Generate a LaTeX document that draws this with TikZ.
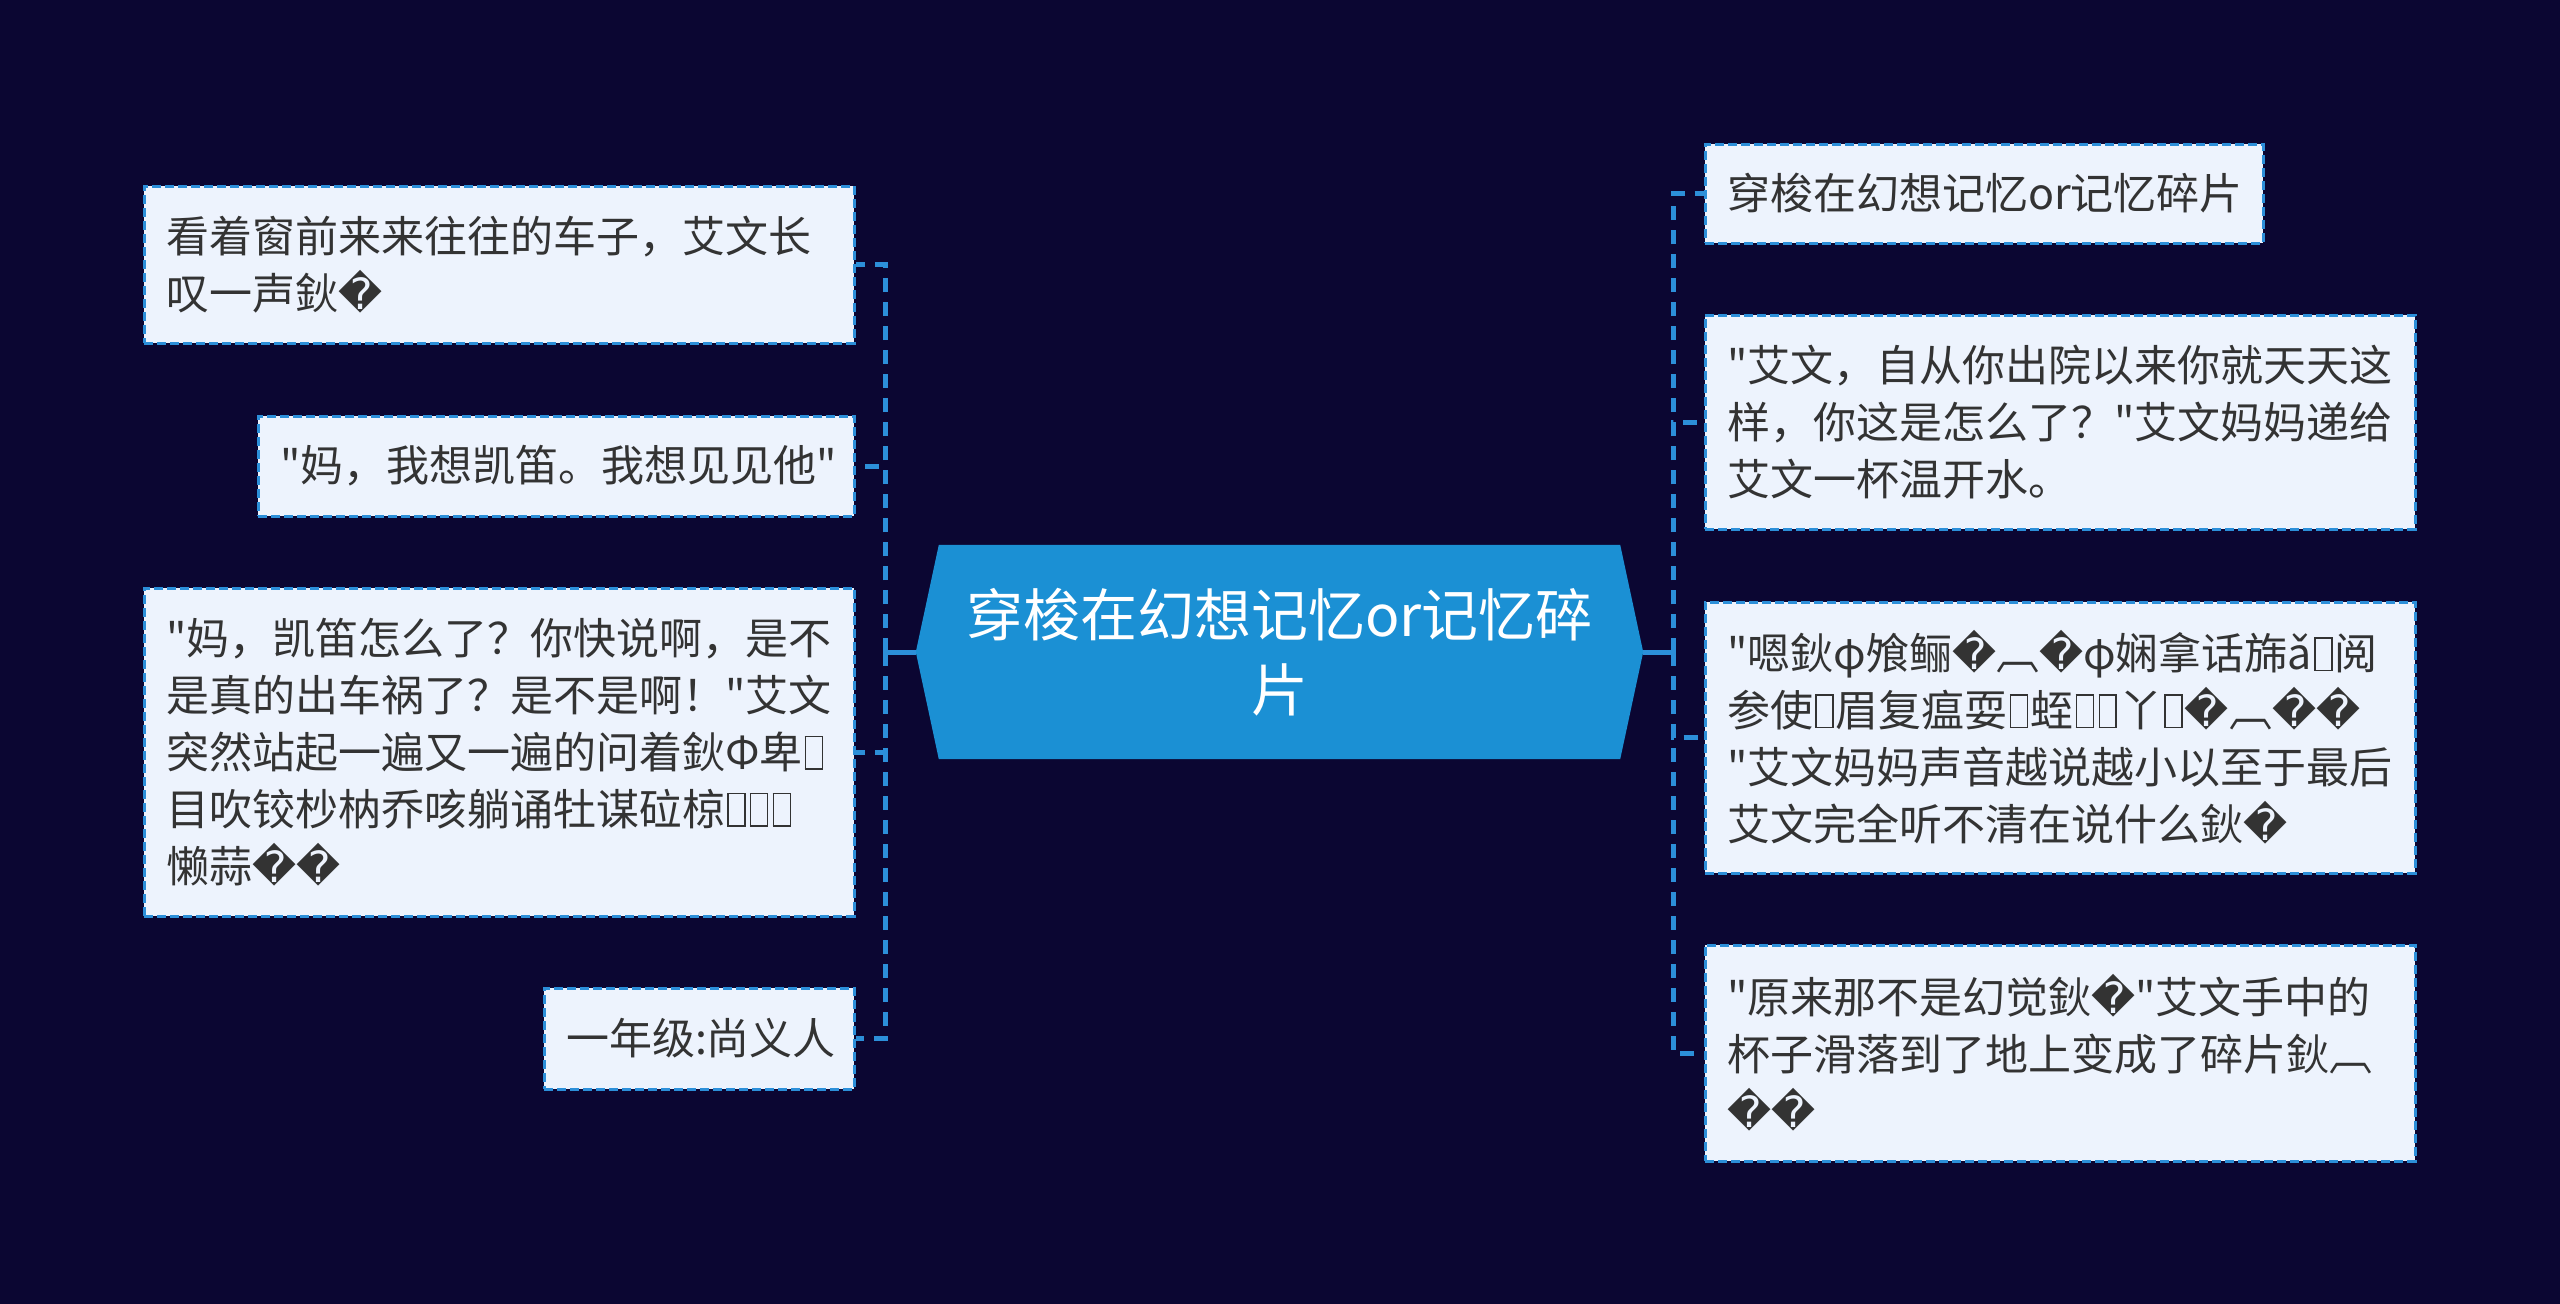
\documentclass[tikz,border=0pt]{standalone}
\usepackage{fontspec}
\setmainfont{Noto Sans CJK SC}[Ligatures=TeXOff]
\newfontfamily\djv{DejaVu Sans}
\usetikzlibrary{backgrounds}
\definecolor{bgnavy}{HTML}{0B0632}
\definecolor{lineblue}{HTML}{2C8FD9}
\definecolor{leaffill}{HTML}{EDF3FD}
\definecolor{txtgray}{HTML}{333333}
\definecolor{centerfill}{HTML}{1B90D4}
\newcommand{\repch}{{\djv\symbol{"FFFD}}}
\newcommand{\tfbox}{\kern0.05em{\setlength{\fboxsep}{0pt}\setlength{\fboxrule}{1.5pt}\fbox{\rule{0pt}{0.72em}\hspace{0.36em}}}\kern0.05em}
\tikzset{
  leaf/.style={draw=lineblue, fill=leaffill, line width=3pt, dash pattern=on 9pt off 4pt,
    text=txtgray, inner xsep=22pt, inner ysep=0pt, font=\fontsize{43}{57}\selectfont, align=left},
  leafc/.style={leaf, align=center},
  conn/.style={draw=lineblue, line width=5pt, dash pattern=on 14pt off 10pt},
  stub/.style={draw=lineblue, line width=5pt},
  hub/.style={text=white, align=center, inner sep=0pt, font=\fontsize{57}{75}\selectfont}
}
\begin{document}
\begin{tikzpicture}[x=1pt,y=-1pt]
\useasboundingbox (0,0) rectangle (2560,1304);
% center
\node[hub, minimum width=727pt, minimum height=214pt] (c) at (1279.5,652) {穿梭在幻想记忆or记忆碎\\片};
\begin{pgfonlayer}{background}
\fill[bgnavy] (0,0) rectangle (2560,1304);
\fill[centerfill]
  (c.west) -- ([xshift=23pt]c.north west) -- ([xshift=-23pt]c.north east) -- (c.east)
  -- ([xshift=-23pt]c.south east) -- ([xshift=23pt]c.south west) -- cycle;
\end{pgfonlayer}
% left leaves
\node[leaf, text width=666pt, minimum height=157pt] (l1) at (499,264.5)
  {看着窗前来来往往的车子，艾文长\\叹一声鈥\repch};
\node[leafc, text width=552pt, minimum height=100pt] (l2) at (556,466)
  {"妈，我想凯笛。我想见见他"};
\node[leaf, text width=666pt, minimum height=328pt] (l3) at (499,752)
  {"妈，凯笛怎么了？你快说啊，是不\\是真的出车祸了？是不是啊！"艾文\\突然站起一遍又一遍的问着鈥Φ卑\tfbox\\目吹铰杪枘乔咳躺诵牡谋砬椋\tfbox\tfbox\tfbox\\懒蒜\repch\repch};
\node[leafc, text width=266pt, minimum height=101pt] (l4) at (699,1038.5)
  {一年级:尚义人};
% right leaves
\node[leafc, text width=514pt, minimum height=99pt] (r1) at (1984,193.5)
  {穿梭在幻想记忆or记忆碎片};
\node[leaf, text width=666pt, minimum height=214pt] (r2) at (2060,422)
  {"艾文，自从你出院以来你就天天这\\样，你这是怎么了？"艾文妈妈递给\\艾文一杯温开水。};
\node[leaf, text width=666pt, minimum height=271pt] (r3) at (2060,737.5)
  {"嗯鈥φ飧鲡\repch︹\repch φ娴拿话旆ǎ\tfbox 阅\\参使\tfbox 眉复瘟耍\tfbox 蛭\tfbox\tfbox 丫\tfbox\repch︹\repch\repch\\"艾文妈妈声音越说越小以至于最后\\艾文完全听不清在说什么鈥\repch};
\node[leaf, text width=666pt, minimum height=216pt] (r4) at (2060,1053)
  {"原来那不是幻觉鈥\repch"艾文手中的\\杯子滑落到了地上变成了碎片鈥︹\\\repch\repch};
% trunks
\coordinate (lt) at (885,652);
\coordinate (rt) at (1673,652);
\draw[stub] (c.west) -- (lt);
\draw[stub] (c.east) -- (rt);
\draw[conn] (lt) |- (l1.east);
\draw[conn] (lt) |- (l2.east);
\draw[conn] (lt) |- (l3.east);
\draw[conn] (lt) |- (l4.east);
\draw[conn] (rt) |- (r1.west);
\draw[conn] (rt) |- (r2.west);
\draw[conn] (rt) |- (r3.west);
\draw[conn] (rt) |- (r4.west);
\end{tikzpicture}
\end{document}
